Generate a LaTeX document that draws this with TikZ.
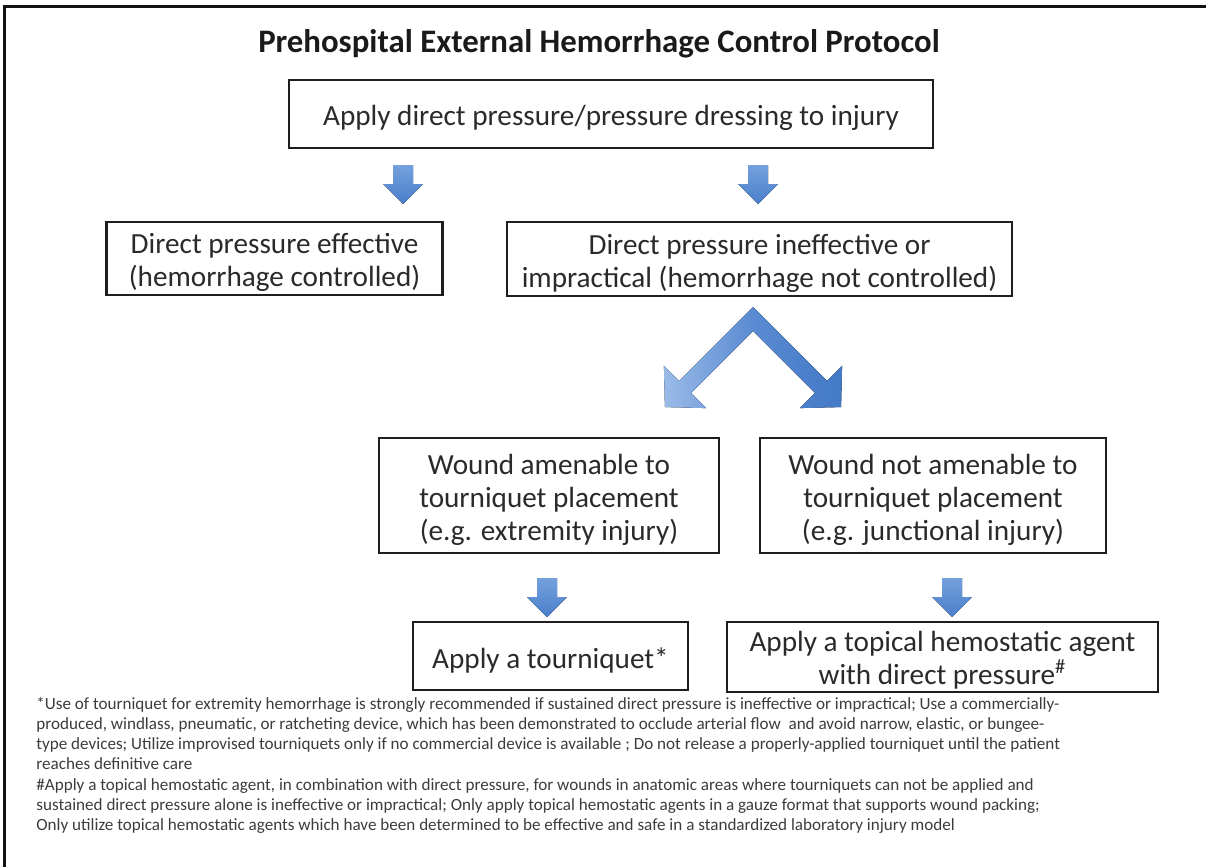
\documentclass[tikz,border=0pt]{standalone}
\usepackage{fontspec}
\setmainfont{Carlito}
\usetikzlibrary{calc}

\definecolor{frameline}{HTML}{111111}
\definecolor{boxline}{HTML}{1E1E1E}
\definecolor{boxtext}{HTML}{2A2A2A}
\definecolor{titletext}{HTML}{1A1A1A}
\definecolor{notetext}{HTML}{3C3C3C}
\definecolor{arrowtop}{HTML}{74A0DD}
\definecolor{arrowbottom}{HTML}{4A7FCB}
\definecolor{forkpale}{HTML}{9ABBE8}
\definecolor{forkmid}{HTML}{5A8AD2}
\definecolor{forkdeep}{HTML}{4379C6}

\tikzset{
  stepbox/.style={draw=boxline, line width=1.25pt, inner sep=0pt},
  steptext/.style={text=boxtext, align=center, inner sep=0pt,
    font=\fontsize{14.6}{16.5}\selectfont},
  note/.style={anchor=base west, inner sep=0pt, text=notetext,
    font=\fontsize{8.55}{10}\selectfont},
  blockarrow/.style={top color=arrowtop, bottom color=arrowbottom, draw=none},
  downarrow/.pic={
    \fill[blockarrow] (-10,0) -- (10,0) -- (10,19) -- (20,19) -- (0,39)
      -- (-20,19) -- (-10,19) -- cycle;
  },
}

\begin{document}
\begin{tikzpicture}[x=0.5pt, y=-0.5pt]
  \useasboundingbox (0,0) rectangle (1206,867);

  % frame: top and left rules
  \draw[frameline, line width=1.5pt] (4.5,867) -- (4.5,6.5) -- (1206,6.5);

  % title
  \node[anchor=base, inner sep=0pt, text=titletext,
        font=\fontsize{16.4}{19}\selectfont\bfseries] (title) at (599,52)
    {Prehospital External Hemorrhage Control Protocol};

  % decision boxes
  \node[stepbox, minimum width=322pt, minimum height=34pt] (apply) at (611,114) {};
  \node[stepbox, minimum width=168pt, minimum height=36.5pt] (effective) at (274.5,258.5) {};
  \node[stepbox, minimum width=252.5pt, minimum height=37pt] (ineffective) at (759.5,259) {};
  \node[stepbox, minimum width=170pt, minimum height=57.5pt] (amenable) at (549,495.5) {};
  \node[stepbox, minimum width=173pt, minimum height=57.5pt] (notamenable) at (933,495.5) {};
  \node[stepbox, minimum width=137.5pt, minimum height=34pt] (tourniquet) at (550.5,656) {};
  \node[stepbox, minimum width=215.5pt, minimum height=35pt] (hemostatic) at (942.5,657) {};

  % box captions
  \node[steptext] (apply-t) at ($(apply.center)+(0,4)$)
    {Apply direct pressure/pressure dressing to injury};
  \node[steptext] (effective-t) at ($(effective.center)+(0,4)$)
    {Direct pressure effective\\(hemorrhage controlled)};
  \node[steptext] (ineffective-t) at ($(ineffective.center)+(0,4)$)
    {Direct pressure ineffective or\\impractical (hemorrhage not controlled)};
  \node[steptext] (amenable-t) at ($(amenable.center)+(0,4)$)
    {Wound amenable to\\tourniquet placement\\(e.g. extremity injury)};
  \node[steptext] (notamenable-t) at ($(notamenable.center)+(0,4)$)
    {Wound not amenable to\\tourniquet placement\\(e.g. junctional injury)};
  \node[steptext] (tourniquet-t) at ($(tourniquet.center)+(0,4)$)
    {Apply a tourniquet*};
  \node[steptext] (hemostatic-t) at ($(hemostatic.center)+(0,3)$)
    {Apply a topical hemostatic agent\\with direct pressure\textsuperscript{\#}};

  % straight block arrows
  \pic at (403,165) {downarrow};
  \pic at (758,165) {downarrow};
  \pic at (547,578) {downarrow};
  \pic at (952,578) {downarrow};

  % forked arrow below the ineffective box
  \fill[left color=forkpale, right color=forkmid, draw=none]
    (753,307) -- (679.1,380.9) -- (663.9,365.7) -- (664.9,407.1)
    -- (706.3,408.1) -- (691.1,392.9) -- (753,331) -- cycle;
  \fill[left color=forkmid, right color=forkdeep, draw=none]
    (753,307) -- (826.9,380.9) -- (842.1,365.7) -- (841.1,407.1)
    -- (799.7,408.1) -- (814.9,392.9) -- (753,331) -- cycle;

  % footnotes
  \node[note] (fn1) at (36,709) {*Use of tourniquet for extremity hemorrhage is strongly recommended if sustained direct pressure is ineffective or impractical; Use a commercially-};
  \node[note] (fn2) at (36,729.3) {produced, windlass, pneumatic, or ratcheting device, which has been demonstrated to occlude arterial flow\ \ and avoid narrow, elastic, or bungee-};
  \node[note] (fn3) at (36,749.6) {type devices; Utilize improvised tourniquets only if no commercial device is available ; Do not release a properly-applied tourniquet until the patient};
  \node[note] (fn4) at (36,769.9) {reaches definitive care};
  \node[note] (fn5) at (36,790.2) {\#Apply a topical hemostatic agent, in combination with direct pressure, for wounds in anatomic areas where tourniquets can not be applied and};
  \node[note] (fn6) at (36,810.5) {sustained direct pressure alone is ineffective or impractical; Only apply topical hemostatic agents in a gauze format that supports wound packing;};
  \node[note] (fn7) at (36,830.8) {Only utilize topical hemostatic agents which have been determined to be effective and safe in a standardized laboratory injury model};
\end{tikzpicture}
\end{document}
